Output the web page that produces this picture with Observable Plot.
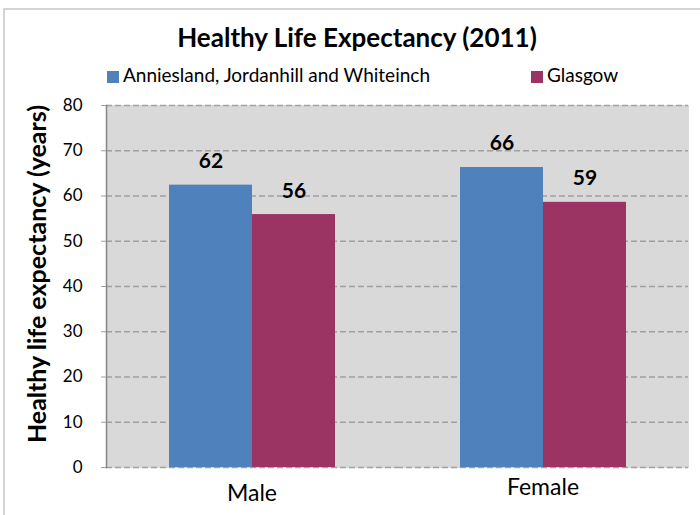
<!DOCTYPE html>
<html>
<head>
<meta charset="utf-8">
<script src="https://cdn.jsdelivr.net/npm/d3@7"></script>
<script src="https://cdn.jsdelivr.net/npm/@observablehq/plot@0.6"></script>
<style>
  html, body { margin: 0; padding: 0; background: #fff; }
  #wrap { position: relative; width: 700px; height: 515px; overflow: hidden; font-family: Lato, "Open Sans", sans-serif; color: #000; }
  #border { position: absolute; left: 3px; top: 8px; width: 720px; height: 540px; border-left: 2px solid #d4d4d4; border-top: 2px solid #d4d4d4; }
  #title { position: absolute; left: 0; width: 714px; top: 22px; text-align: center; font-weight: bold; font-size: 26px; line-height: 1.2; }
  .leg { position: absolute; top: 64px; font-size: 19px; line-height: 1.2; white-space: nowrap; }
  .sw { display: inline-block; width: 12px; height: 12px; margin-right: 4px; vertical-align: -1px; }
  #ytitle { position: absolute; left: 36px; top: 274px; transform: translate(-50%, -50%) rotate(-90deg); font-weight: bold; font-size: 25px; line-height: 1.2; white-space: nowrap; }
  #chart { position: absolute; left: 0; top: 95px; }
</style>
</head>
<body>
<div id="wrap">
  <div id="border"></div>
  <div id="title"></div>
  <div id="leg1" class="leg" style="left:107px"></div>
  <div id="leg2" class="leg" style="left:531px"></div>
  <div id="ytitle"></div>
  <div id="chart"></div>
</div>
<script>
const titleText = "Healthy Life Expectancy (2011)";
const yTitle = "Healthy life expectancy (years)";
const sexes = ["Male", "Female"];
const series = ["Anniesland, Jordanhill and Whiteinch", "Glasgow"];
const anniesland = [62.4, 66.3];
const glasgow = [55.9, 58.6];
const colors = ["#4f81bd", "#9b3463"];
const yTicks = [0, 10, 20, 30, 40, 50, 60, 70, 80];

document.getElementById("title").textContent = titleText;
document.getElementById("ytitle").textContent = yTitle;
[["leg1", 0], ["leg2", 1]].forEach(([id, i]) => {
  const el = document.getElementById(id);
  const sw = document.createElement("span");
  sw.className = "sw";
  sw.style.background = colors[i];
  el.appendChild(sw);
  el.appendChild(document.createTextNode(series[i]));
});

const rows = [];
sexes.forEach((s, i) => {
  rows.push({sex: s, series: series[0], value: anniesland[i]});
  rows.push({sex: s, series: series[1], value: glasgow[i]});
});

const chart = Plot.plot({
  width: 700,
  height: 420,
  marginLeft: 106,
  marginRight: 12,
  marginTop: 10,
  marginBottom: 48,
  style: {fontFamily: "Lato, 'Open Sans', sans-serif", fontSize: "17px", color: "#000", background: "transparent"},
  fx: {domain: sexes, paddingInner: 0, paddingOuter: 0, axis: null},
  x: {domain: series, paddingInner: 0, paddingOuter: 0.742, axis: null},
  y: {domain: [0, 80], axis: null},
  color: {domain: series, range: colors},
  marks: [
    Plot.frame({fill: "#d9d9d9", stroke: "#d9d9d9", strokeWidth: 1}),
    Plot.gridY(yTicks, {stroke: "#a0a0a0", strokeOpacity: 1, strokeDasharray: "6,3", strokeWidth: 1.3}),
    Plot.barY(rows, {fx: "sex", x: "series", y: "value", fill: "series"}),
    Plot.text(rows, {fx: "sex", x: "series", y: "value", text: d => String(Math.round(d.value)), lineAnchor: "bottom", dy: -17, fontSize: 21, fontWeight: "bold", fill: "#000"}),
    Plot.axisY(yTicks, {tickSize: 8, tickPadding: 16, fontSize: 17, fill: "#000", stroke: "#a0a0a0", strokeDasharray: "5,3", label: null}),
    Plot.frame({anchor: "left", stroke: "#868686", strokeWidth: 1.5, facetAnchor: "left"}),
    Plot.text([sexes[0]], {fx: d => d, text: d => d, frameAnchor: "bottom", dy: 33, fontSize: 23, fill: "#000"}),
    Plot.text([sexes[1]], {fx: d => d, text: d => d, frameAnchor: "bottom", dy: 27, fontSize: 23, fill: "#000"})
  ]
});
document.getElementById("chart").appendChild(chart);
</script>
</body>
</html>
